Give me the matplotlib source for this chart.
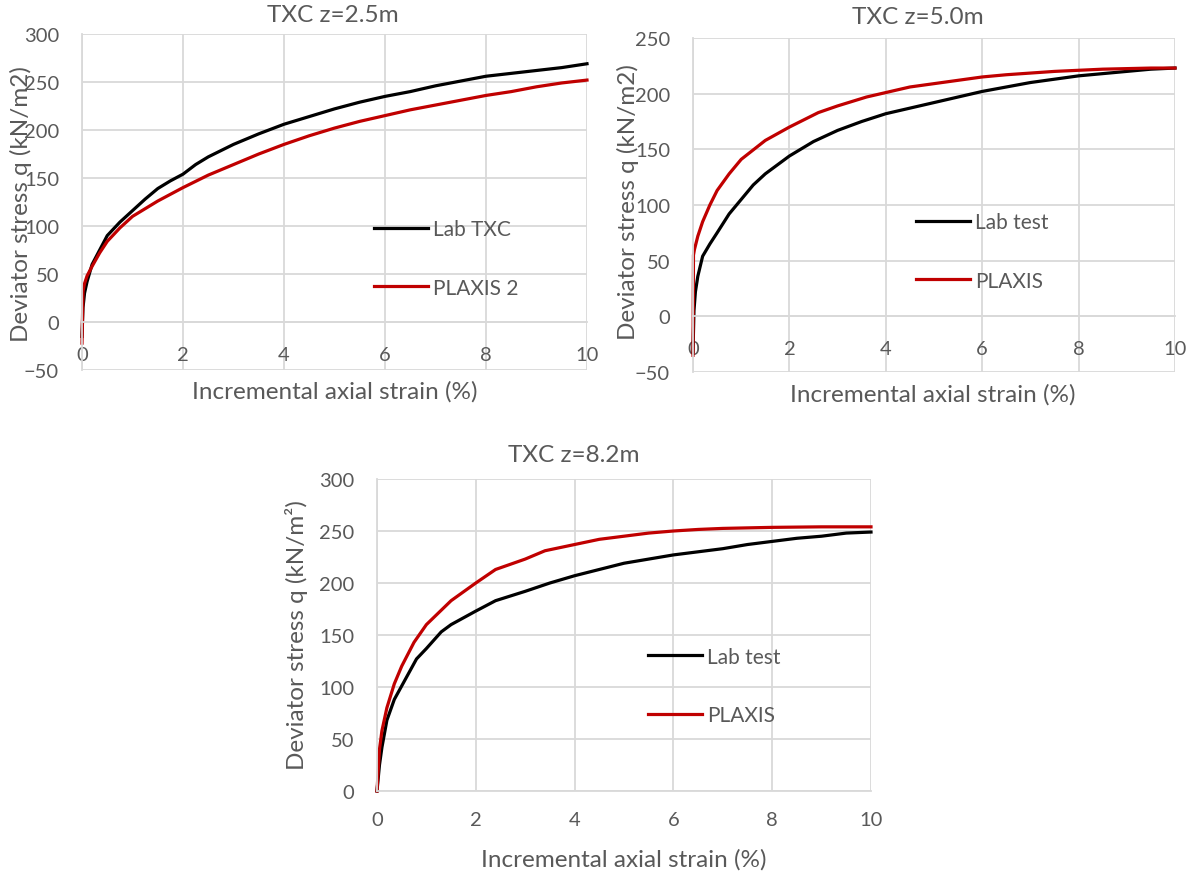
import matplotlib.pyplot as plt

# digitised curves: strain (%) vs deviator stress q (kN/m2)
# z = 2.5 m
lab25_x = [0, 0.02, 0.05, 0.1, 0.2, 0.35, 0.5, 0.75, 1.0, 1.25, 1.5, 1.75, 2.0, 2.25, 2.5, 3.0, 3.5, 4.0, 4.5, 5.0, 5.5, 6.0, 6.5, 7.0, 7.5, 8.0, 8.5, 9.0, 9.5, 10.0]
lab25_y = [-15, 15, 30, 42, 60, 75, 90, 104, 116, 128, 139, 147, 154, 164, 172, 185, 196, 206, 214, 222, 229, 235, 240, 246, 251, 256, 259, 262, 265, 269]
plx25_x = [0, 0.02, 0.05, 0.1, 0.2, 0.35, 0.5, 0.75, 1.0, 1.5, 2.0, 2.5, 3.0, 3.5, 4.0, 4.5, 5.0, 5.5, 6.0, 6.5, 7.0, 7.5, 8.0, 8.5, 9.0, 9.5, 10.0]
plx25_y = [-22, 32, 40, 48, 58, 72, 84, 98, 110, 126, 140, 153, 164, 175, 185, 194, 202, 209, 215, 221, 226, 231, 236, 240, 245, 249, 252]

# z = 5.0 m
lab50_x = [0, 0.02, 0.05, 0.1, 0.2, 0.35, 0.5, 0.75, 1.0, 1.25, 1.5, 2.0, 2.5, 3.0, 3.5, 4.0, 4.5, 5.0, 5.5, 6.0, 6.5, 7.0, 7.5, 8.0, 8.5, 9.0, 9.5, 10.0]
lab50_y = [-32, 5, 22, 36, 54, 65, 75, 92, 105, 118, 128, 144, 157, 167, 175, 182, 187, 192, 197, 202, 206, 210, 213, 216, 218, 220, 222, 223]
plx50_x = [0, 0.01, 0.03, 0.1, 0.2, 0.35, 0.5, 0.75, 1.0, 1.5, 2.0, 2.6, 3.0, 3.6, 4.0, 4.5, 5.0, 5.5, 6.0, 6.5, 7.0, 7.5, 8.0, 8.5, 9.0, 9.5, 10.0]
plx50_y = [-35, 55, 60, 72, 85, 100, 113, 128, 141, 158, 170, 183, 189, 197, 201, 206, 209, 212, 215, 217, 218.5, 220, 221, 222, 222.5, 223, 223]

# z = 8.2 m
lab82_x = [0, 0.05, 0.1, 0.2, 0.35, 0.5, 0.8, 1.0, 1.3, 1.5, 2.0, 2.4, 3.0, 3.5, 4.0, 4.5, 5.0, 5.5, 6.0, 6.5, 7.0, 7.5, 8.0, 8.5, 9.0, 9.5, 10.0]
lab82_y = [0, 25, 42, 68, 88, 101, 127, 137, 153, 160, 173, 183, 192, 200, 207, 213, 219, 223, 227, 230, 233, 237, 240, 243, 245, 248, 249]
plx82_x = [0, 0.05, 0.1, 0.2, 0.35, 0.5, 0.75, 1.0, 1.5, 2.0, 2.4, 3.0, 3.4, 4.0, 4.5, 5.0, 5.5, 6.0, 6.5, 7.0, 7.5, 8.0, 9.0, 10.0]
plx82_y = [0, 40, 58, 80, 103, 120, 143, 160, 183, 200, 213, 223, 231, 237, 242, 245, 248, 250, 251.5, 252.5, 253, 253.5, 254, 254]

plt.rcParams['font.family'] = ['Lato', 'DejaVu Sans']
grey = '#595959'
gridc = '#D9D9D9'
red = '#C00000'

W, H = 1195, 878
fig = plt.figure(figsize=(W / 100, H / 100), dpi=100)


def px_axes(left, right, top, bottom):
    # pixel box -> figure fraction
    return fig.add_axes([left / W, 1 - bottom / H, (right - left) / W, (bottom - top) / H])


def ftext(x, y, s, **kw):
    fig.text(x / W, 1 - y / H, s, ha='center', va='center', color=grey, **kw)


def setup(ax, ylim, yticks, xpad):
    ax.set_xlim(0, 10)
    ax.set_ylim(*ylim)
    ax.set_xticks(range(0, 11, 2))
    ax.set_yticks(yticks)
    ax.grid(True, color=gridc, linewidth=1.3)
    ax.set_axisbelow(True)
    for s in ['top', 'right']:
        ax.spines[s].set_visible(False)
    ax.spines['left'].set_color(gridc)
    ax.spines['left'].set_linewidth(1.3)
    ax.spines['bottom'].set_color(gridc)
    ax.spines['bottom'].set_linewidth(1.3)
    ax.spines['bottom'].set_position(('data', 0))
    ax.tick_params(length=0, labelsize=14.5, labelcolor=grey)
    ax.tick_params(axis='x', pad=xpad)
    ax.tick_params(axis='y', pad=16.5)


def add_legend(ax, pos):
    ax.legend(loc='center left', bbox_to_anchor=pos, frameon=False,
              fontsize=15, labelcolor=grey, handlelength=2.6, handletextpad=0.25,
              labelspacing=1.85, borderpad=0, borderaxespad=0)


# top left
ax1 = px_axes(82, 587, 35, 371)
ax1.plot(lab25_x, lab25_y, color='black', lw=2.3, label='Lab TXC', clip_on=False)
ax1.plot(plx25_x, plx25_y, color=red, lw=2.3, label='PLAXIS 2', clip_on=False)
setup(ax1, (-50, 300), range(-50, 301, 50), 17)
ftext(333, 15, 'TXC z=2.5m', fontsize=17.5)
ftext(335, 392, 'Incremental axial strain (%)', fontsize=17.5)
ftext(21, 204, 'Deviator stress q (kN/m2)', fontsize=17.5, rotation=90)
add_legend(ax1, ((374 - 82) / 505, (371 - 259.5) / 336))

# top right
ax2 = px_axes(693, 1175, 39, 373)
ax2.plot(lab50_x, lab50_y, color='black', lw=2.3, label='Lab test', clip_on=False)
ax2.plot(plx50_x, plx50_y, color=red, lw=2.3, label='PLAXIS', clip_on=False)
setup(ax2, (-50, 250), range(-50, 251, 50), 17)
ftext(918, 17, 'TXC z=5.0m', fontsize=17.5)
ftext(933, 395, 'Incremental axial strain (%)', fontsize=17.5)
ftext(628, 202, 'Deviator stress q (kN/m2)', fontsize=17.5, rotation=90)
add_legend(ax2, ((916 - 693) / 482, (373 - 252.5) / 334))

# bottom
ax3 = px_axes(377, 871, 480, 792)
ax3.plot(lab82_x, lab82_y, color='black', lw=2.3, label='Lab test', clip_on=False)
ax3.plot(plx82_x, plx82_y, color=red, lw=2.3, label='PLAXIS', clip_on=False)
setup(ax3, (0, 300), range(0, 301, 50), 14.5)
ftext(574, 456, 'TXC z=8.2m', fontsize=17.5)
ftext(624, 860, 'Incremental axial strain (%)', fontsize=17.5)
ftext(297, 635, 'Deviator stress q (kN/m²)', fontsize=17.5, rotation=90)
add_legend(ax3, ((648 - 377) / 494, (792 - 687) / 312))

fig.savefig('out.png', dpi=100)
